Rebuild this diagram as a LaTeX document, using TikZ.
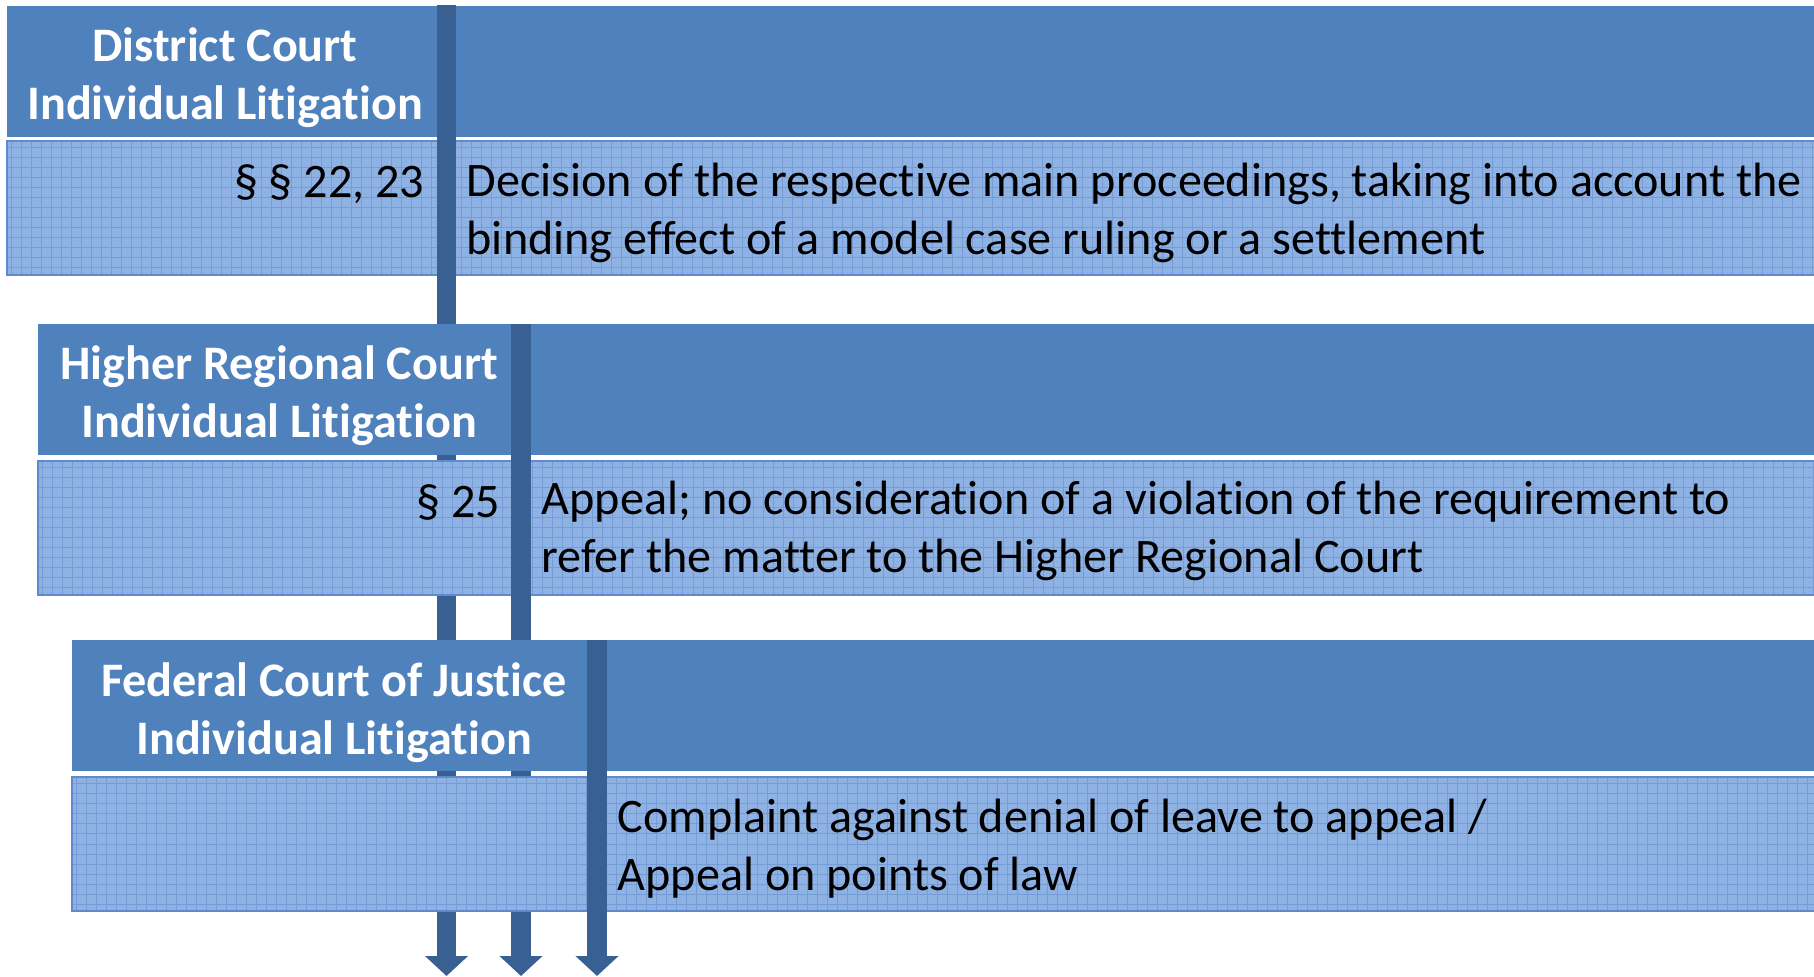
\documentclass[tikz,border=0pt]{standalone}
\usepackage{fontspec}
\setmainfont{Carlito}[Ligatures=NoCommon]
\usepackage{xcolor}
\usepackage{tikz}
\usetikzlibrary{arrows.meta}

\definecolor{headBlue}{RGB}{79,129,189}
\definecolor{barBlue}{RGB}{56,96,146}
\definecolor{fieldBlue}{RGB}{143,178,229}
\definecolor{gridBlue}{RGB}{118,156,214}
\definecolor{edgeBlue}{RGB}{96,138,204}

\tikzset{
head/.style = {rectangle, fill=headBlue, anchor=north west,
               inner sep=0pt, outer sep=0pt,
               minimum width=#1, minimum height=1.31cm},
head/.default = 18.3cm
}
\tikzset{
field/.style = {rectangle, fill=fieldBlue, draw=edgeBlue, line width=0.2mm,
                anchor=north west, inner sep=0pt, outer sep=0pt,
                minimum width=#1, minimum height=1.34cm,
                path picture={\draw[gridBlue, line width=0.1mm, step=0.1]
                  (path picture bounding box.south west) grid
                  (path picture bounding box.north east);}},
field/.default = 18.3cm
}
\tikzset{
title/.style = {align=center, text=white, font=\fontsize{13.7pt}{16.5pt}\selectfont\bfseries},
para/.style  = {anchor=east, inner sep=0pt, font=\fontsize{13.7pt}{16.5pt}\selectfont},
txt/.style   = {anchor=west, align=left, inner sep=0pt, font=\fontsize{13.7pt}{16.5pt}\selectfont},
bar/.style   = {barBlue, line width=1.95mm, -{Triangle[width=4.2mm, length=2mm]}}
}

\begin{document}
\begin{tikzpicture}
\useasboundingbox (0,0) rectangle (18.14,9.76);

% District Court
\node[head] (headDistrict) at (0.07,9.70) {};
\node[field] (fieldDistrict) at (0.07,8.35) {};
\node[title] (titleDistrict) at (2.25,8.98) {District Court\\Individual Litigation};
\node[para] (paraDistrict) at (4.25,7.92) {§ § 22, 23};
\node[txt] (textDistrict) at (4.66,7.63) {Decision of the respective main proceedings, taking into account the\\binding effect of a model case ruling or a settlement};
\coordinate (barDistrictTop) at (4.465,9.71);
\coordinate (barDistrictEnd) at (4.465,0);
\draw[bar] (barDistrictTop) -- (barDistrictEnd);

% Higher Regional Court
\node[head] (headRegional) at (0.38,6.52) {};
\node[field] (fieldRegional) at (0.38,5.15) {};
\node[title] (titleRegional) at (2.79,5.80) {Higher Regional Court\\Individual Litigation};
\node[para] (paraRegional) at (5.01,4.73) {§ 25};
\node[txt] (textRegional) at (5.41,4.45) {Appeal; no consideration of a violation of the requirement to\\refer the matter to the Higher Regional Court};
\coordinate (barRegionalTop) at (5.21,6.52);
\coordinate (barRegionalEnd) at (5.21,0);
\draw[bar] (barRegionalTop) -- (barRegionalEnd);

% Federal Court of Justice
\node[head] (headFederal) at (0.72,3.36) {};
\node[field] (fieldFederal) at (0.72,1.99) {};
\node[title] (titleFederal) at (3.34,2.63) {Federal Court of Justice\\Individual Litigation};
\node[txt] (textFederal) at (6.17,1.27) {Complaint against denial of leave to appeal /\\Appeal on points of law};
\coordinate (barFederalTop) at (5.97,3.36);
\coordinate (barFederalEnd) at (5.97,0);
\draw[bar] (barFederalTop) -- (barFederalEnd);
\end{tikzpicture}
\end{document}
